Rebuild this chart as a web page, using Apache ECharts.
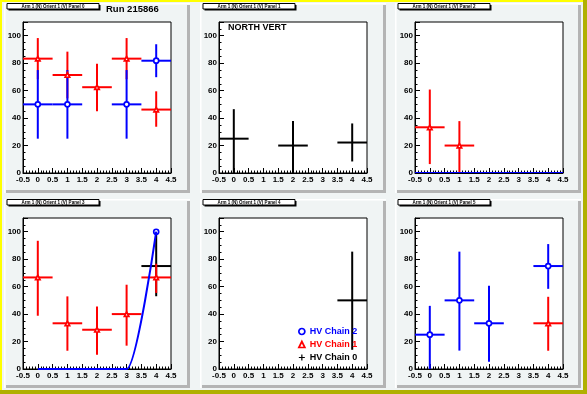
<!DOCTYPE html>
<html>
<head>
<meta charset="utf-8">
<script src="https://cdn.jsdelivr.net/npm/echarts@6/dist/echarts.min.js"></script>
<style>html,body{margin:0;padding:0;}#c{width:587px;height:394px;}</style>
</head>
<body>
<div id="c"></div>
<script>
// ---------------- data ----------------
const xBins = [0, 1, 2, 3, 4];
const binHalfWidth = 0.5;
const chainNames = ['HV Chain 2', 'HV Chain 1', 'HV Chain 0'];
const padTitles = ['Arm 1 (N) Orient 1 (V) Panel 0', 'Arm 1 (N) Orient 1 (V) Panel 1', 'Arm 1 (N) Orient 1 (V) Panel 2',
                   'Arm 1 (N) Orient 1 (V) Panel 3', 'Arm 1 (N) Orient 1 (V) Panel 4', 'Arm 1 (N) Orient 1 (V) Panel 5'];
const runLabel = 'Run 215866';
const sideLabel = 'NORTH VERT';

// Panel 0
const p0Chain2   = [50, 50, null, 50, 81.8];
const p0Chain2Lo = [25, 25, null, 25, 12];
const p0Chain2Hi = [25, 25, null, 25, 12];
const p0Chain1   = [83.3, 71.4, 62.5, 83.3, 46.2];
const p0Chain1Lo = [15, 17, 17.5, 15, 12.5];
const p0Chain1Hi = [15, 17, 17, 15, 13.3];
// Panel 1
const p1Chain0   = [25, null, 20, null, 22.2];
const p1Chain0Lo = [25, null, 20, null, 13.8];
const p1Chain0Hi = [21.5, null, 17.8, null, 13.9];
// Panel 2
const p2Chain2   = [0, 0, 0, 0, 0];
const p2Chain2Lo = [0, 0, 0, 0, 0];
const p2Chain2Hi = [0, 0, 0, 0, 0];
const p2Chain1   = [33.3, 20, null, null, null];
const p2Chain1Lo = [26.8, 20, null, null, null];
const p2Chain1Hi = [27.5, 17.8, null, null, null];
// Panel 3
const p3Chain2Curve = [0, 0, 0, 0, 100];
const p3Chain1   = [66.7, 33.3, 28.6, 40, 66.7];
const p3Chain1Lo = [27.9, 20, 18.2, 23, 11.3];
const p3Chain1Hi = [26.7, 19.6, 17, 21.4, 10];
const p3Chain0   = [null, null, null, null, 75];
const p3Chain0Lo = [null, null, null, null, 22];
const p3Chain0Hi = [null, null, null, null, 25];
// Panel 4
const p4Chain0   = [null, null, null, null, 50];
const p4Chain0Lo = [null, null, null, null, 36];
const p4Chain0Hi = [null, null, null, null, 35.5];
// Panel 5
const p5Chain2   = [25, 50, 33.3, null, 75];
const p5Chain2Lo = [25, 36.6, 28, null, 16.6];
const p5Chain2Hi = [21, 35.5, 27.3, null, 16];
const p5Chain1   = [null, null, null, null, 33.3];
const p5Chain1Lo = [null, null, null, null, 20];
const p5Chain1Hi = [null, null, null, null, 19.3];

// ---------------- layout / style ----------------
const FONT = '"Liberation Sans", Arial, Helvetica, sans-serif';
const COL = {2: '#0000ff', 1: '#ff0000', 0: '#000000'};
const frameLeft = [23, 219, 415], frameTop = [22, 218], frameW = 148, frameH = 151;
const padX = [4, 200, 395], padY = [3, 199], padW = 186, padH = [190, 189];
const Y_MIN = 0, Y_MAX = 110;

function pts(v, lo, hi) {
  const out = [];
  xBins.forEach((x, i) => { if (v[i] !== null && v[i] !== undefined) out.push([x, v[i], lo ? lo[i] : 0, hi ? hi[i] : 0]); });
  return out;
}

const panels = [
  {c2: pts(p0Chain2, p0Chain2Lo, p0Chain2Hi), c1: pts(p0Chain1, p0Chain1Lo, p0Chain1Hi)},
  {c0: pts(p1Chain0, p1Chain0Lo, p1Chain0Hi)},
  {c1: pts(p2Chain1, p2Chain1Lo, p2Chain1Hi), c2: pts(p2Chain2, p2Chain2Lo, p2Chain2Hi)},
  {c0: pts(p3Chain0, p3Chain0Lo, p3Chain0Hi), c1: pts(p3Chain1, p3Chain1Lo, p3Chain1Hi), c2curve: pts(p3Chain2Curve)},
  {c0: pts(p4Chain0, p4Chain0Lo, p4Chain0Hi)},
  {c1: pts(p5Chain1, p5Chain1Lo, p5Chain1Hi), c2: pts(p5Chain2, p5Chain2Lo, p5Chain2Hi)}
];

function errSeries(idx, chain, data) {
  const color = COL[chain];
  return {
    type: 'custom', name: chainNames[2 - chain], xAxisIndex: idx, yAxisIndex: idx, clip: true,
    data: data,
    renderItem: function (params, api) {
      const x = api.value(0), y = api.value(1), lo = api.value(2), hi = api.value(3);
      const pL = api.coord([x - binHalfWidth, y]), pR = api.coord([x + binHalfWidth, y]);
      const pB = api.coord([x, Math.max(Y_MIN, y - lo)]), pT = api.coord([x, Math.min(Y_MAX, y + hi)]);
      const st = {stroke: color, lineWidth: 2};
      return {type: 'group', children: [
        {type: 'line', shape: {x1: pL[0], y1: pL[1], x2: pR[0], y2: pR[1]}, style: st},
        {type: 'line', shape: {x1: pB[0], y1: pB[1], x2: pT[0], y2: pT[1]}, style: st}
      ]};
    }
  };
}
function markerSeries(idx, chain, data) {
  return {
    type: 'scatter', name: chainNames[2 - chain], xAxisIndex: idx, yAxisIndex: idx,
    data: data.filter(d => d[1] > Y_MIN).map(d => [d[0], d[1]]),
    symbol: chain === 2 ? 'circle' : 'triangle', symbolSize: chain === 2 ? 5 : 4.5,
    itemStyle: {color: '#ffffff', borderColor: COL[chain], borderWidth: 1.7, opacity: 1},
    emphasis: {disabled: true}
  };
}

const grids = [], xAxes = [], yAxes = [], series = [], graphics = [];
const axisCommon = {
  axisLine: {show: true, onZero: false, lineStyle: {color: '#000', width: 1}},
  axisTick: {show: true, inside: true, length: 5, lineStyle: {color: '#000', width: 1}},
  splitLine: {show: false},
  axisLabel: {color: '#000', fontSize: 8, fontWeight: 'bold', fontFamily: FONT}
};

// canvas border
graphics.push({type: 'rect', shape: {x: 0, y: 0, width: 2, height: 394}, style: {fill: '#ffff00'}, z: -20});
graphics.push({type: 'rect', shape: {x: 0, y: 0, width: 587, height: 2}, style: {fill: '#ffff00'}, z: -20});
graphics.push({type: 'rect', shape: {x: 583, y: 0, width: 4, height: 394}, style: {fill: '#b0b000'}, z: -20});
graphics.push({type: 'rect', shape: {x: 0, y: 390, width: 587, height: 4}, style: {fill: '#b0b000'}, z: -20});

for (let i = 0; i < 6; i++) {
  const col = i % 3, row = Math.floor(i / 3);
  grids.push({left: frameLeft[col], top: frameTop[row], width: frameW, height: frameH,
    show: true, backgroundColor: '#ffffff', borderColor: '#000', borderWidth: 1, containLabel: false, outerBoundsMode: 'none'});
  xAxes.push(Object.assign({}, axisCommon, {
    gridIndex: i, type: 'value', min: -0.5, max: 4.5, interval: 0.5,
    minorTick: {show: true, splitNumber: 5, length: 2.5, lineStyle: {color: '#000', width: 1}},
    axisLabel: Object.assign({}, axisCommon.axisLabel, {margin: 3})
  }));
  yAxes.push(Object.assign({}, axisCommon, {
    gridIndex: i, type: 'value', min: Y_MIN, max: Y_MAX, interval: 20,
    minorTick: {show: true, splitNumber: 4, length: 2.5, lineStyle: {color: '#000', width: 1}},
    axisLabel: Object.assign({}, axisCommon.axisLabel, {margin: 2, showMaxLabel: false})
  }));

  const p = panels[i];
  if (p.c0) series.push(errSeries(i, 0, p.c0));
  if (p.c1) { series.push(errSeries(i, 1, p.c1)); series.push(markerSeries(i, 1, p.c1)); }
  if (p.c2) { series.push(errSeries(i, 2, p.c2)); series.push(markerSeries(i, 2, p.c2)); }
  if (p.c2curve) {
    series.push({type: 'line', name: chainNames[0], xAxisIndex: i, yAxisIndex: i, smooth: 0.2,
      data: p.c2curve.map(d => [d[0], d[1]]), symbol: 'none', lineStyle: {color: COL[2], width: 2}, clip: true});
    series.push(markerSeries(i, 2, p.c2curve));
  }

  // pad border
  const px = padX[col], py = padY[row], ph = padH[row];
  graphics.push({type: 'rect', shape: {x: px, y: py, width: padW, height: 1.5}, style: {fill: '#ffffff'}, z: -10});
  graphics.push({type: 'rect', shape: {x: px, y: py, width: 1.5, height: ph}, style: {fill: '#ffffff'}, z: -10});
  graphics.push({type: 'rect', shape: {x: px + padW - 3, y: py + 2, width: 3, height: ph - 2}, style: {fill: '#b4b4b4'}, z: -10});
  graphics.push({type: 'rect', shape: {x: px + 2, y: py + ph - 3, width: padW - 2, height: 3}, style: {fill: '#b4b4b4'}, z: -10});
  // pad title box
  const bx = px + 3, by = py + 0.5;
  graphics.push({type: 'rect', shape: {x: bx + 1.5, y: by + 1.5, width: 92, height: 5.5}, style: {fill: '#000'}, z: 20});
  graphics.push({type: 'rect', shape: {x: bx, y: by, width: 92, height: 5.5}, style: {fill: '#fff', stroke: '#000', lineWidth: 1}, z: 21});
  graphics.push({type: 'text', x: bx + 46, y: by + 3, style: {text: padTitles[i], fill: '#000', font: 'bold 4.5px ' + FONT, textAlign: 'center', textVerticalAlign: 'middle'}, z: 22});
}

graphics.push({type: 'text', x: 106, y: 9, style: {text: runLabel, fill: '#000', font: 'bold 9.5px ' + FONT, textAlign: 'left', textVerticalAlign: 'middle'}, z: 22});
graphics.push({type: 'text', x: 228, y: 28, style: {text: sideLabel, fill: '#000', font: 'bold 9px ' + FONT, textAlign: 'left', textVerticalAlign: 'middle'}, z: 22});

const chart = echarts.init(document.getElementById('c'), null, {renderer: 'canvas'});
chart.setOption({
  animation: false,
  backgroundColor: '#f0f4f4',
  grid: grids, xAxis: xAxes, yAxis: yAxes, series: series,
  graphic: {elements: graphics},
  legend: {
    show: true, orient: 'vertical', left: 298, top: 327, itemWidth: 6, itemHeight: 6, itemGap: 4,
    selectedMode: false, padding: 0,
    textStyle: {fontSize: 9, fontWeight: 'bold', fontFamily: FONT},
    data: [
      {name: chainNames[0], icon: 'circle', itemStyle: {color: '#fff', borderColor: COL[2], borderWidth: 1.7}, textStyle: {color: COL[2]}},
      {name: chainNames[1], icon: 'triangle', itemStyle: {color: '#fff', borderColor: COL[1], borderWidth: 1.7}, textStyle: {color: COL[1]}},
      {name: chainNames[2], icon: 'path://M4,0h2v10h-2zM0,4h10v2h-10z', itemStyle: {color: '#000', borderWidth: 0}, textStyle: {color: '#000'}}
    ]
  }
});
</script>
</body>
</html>
